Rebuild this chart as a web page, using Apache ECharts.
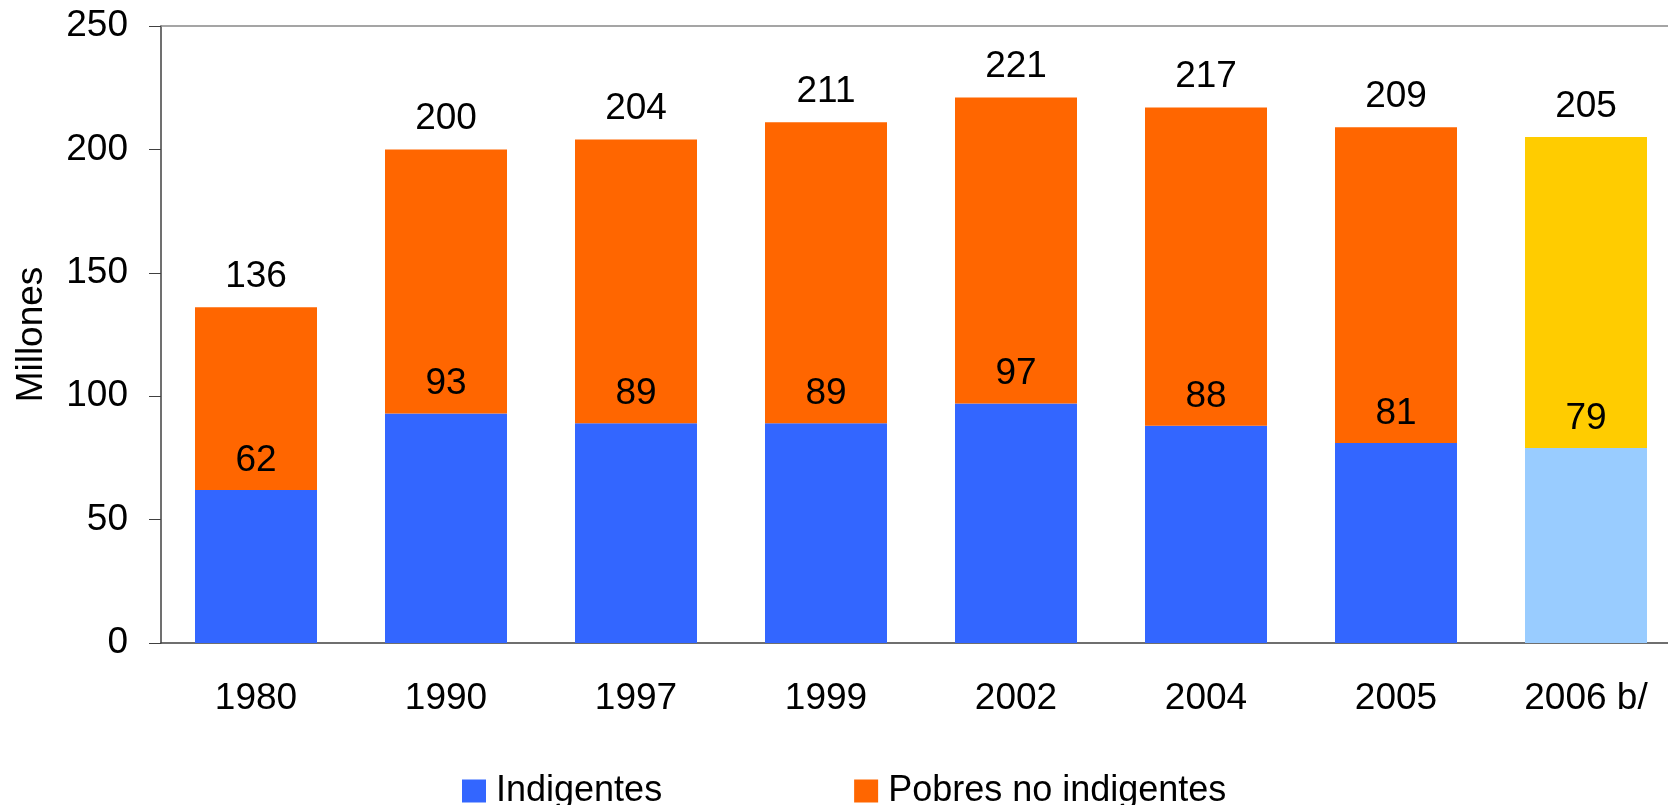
<!DOCTYPE html>
<html>
<head>
<meta charset="utf-8">
<script src="https://cdn.jsdelivr.net/npm/echarts@6/dist/echarts.min.js"></script>
<style>
  html, body { margin: 0; padding: 0; background: #fff; }
  #chart { width: 1668px; height: 805px; }
</style>
</head>
<body>
<div id="chart"></div>
<script>
// datos (millones de personas)
var years = ['1980', '1990', '1997', '1999', '2002', '2004', '2005', '2006 b/'];
var indigentes = [62, 93, 89, 89, 97, 88, 81, 79];
var totales = [136, 200, 204, 211, 221, 217, 209, 205];
var pobresNoIndigentes = totales.map(function (t, i) { return t - indigentes[i]; });

var FONT = '"Liberation Sans", Arial, sans-serif';

var chart = echarts.init(document.getElementById('chart'));

// el ultimo año (proyeccion) va en otros colores
var indigData = indigentes.map(function (v, i) {
  return i === indigentes.length - 1 ? { value: v, itemStyle: { color: '#99CCFF' } } : v;
});
var pobresData = pobresNoIndigentes.map(function (v, i) {
  return i === pobresNoIndigentes.length - 1 ? { value: v, itemStyle: { color: '#FFCC00' } } : v;
});

var option = {
  animation: false,
  backgroundColor: '#fff',
  textStyle: { fontFamily: FONT },
  // el grafico original esta recortado a la derecha
  grid: { left: 161, top: 26, bottom: 162, width: 1520, outerBoundsMode: 'none', containLabel: false },
  legend: {
    left: 457,
    top: 768,
    itemWidth: 24,
    itemHeight: 23,
    itemGap: 192,
    icon: 'rect',
    textStyle: { fontSize: 36, color: '#000', fontFamily: FONT, padding: [0, 0, 0, 5] },
    data: ['Indigentes', 'Pobres no indigentes']
  },
  xAxis: [{
    type: 'category',
    data: years,
    axisLine: { lineStyle: { color: '#404040', width: 1.5 } },
    axisTick: { length: 12, lineStyle: { color: '#404040' } },
    axisLabel: { fontSize: 37, color: '#000', margin: 37 }
  }, {
    // linea superior del area de trazado
    type: 'category',
    position: 'top',
    data: years,
    axisLine: { lineStyle: { color: '#888', width: 1.5 } },
    axisTick: { show: false },
    axisLabel: { show: false }
  }],
  yAxis: {
    type: 'value',
    min: 0,
    max: 250,
    interval: 50,
    name: 'Millones',
    nameLocation: 'middle',
    nameGap: 111,
    nameTextStyle: { fontSize: 37, color: '#000' },
    axisLine: { show: true, lineStyle: { color: '#404040', width: 1.5 } },
    axisTick: { show: true, length: 12, lineStyle: { color: '#404040' } },
    axisLabel: { fontSize: 37, color: '#000', margin: 33 },
    splitLine: { show: false }
  },
  series: [
    {
      name: 'Indigentes',
      type: 'bar',
      stack: 'total',
      barWidth: 122,
      itemStyle: { color: '#3366FF' },
      label: { show: true, position: 'top', distance: 11, fontSize: 37, color: '#000' },
      data: indigData
    },
    {
      name: 'Pobres no indigentes',
      type: 'bar',
      stack: 'total',
      barWidth: 122,
      itemStyle: { color: '#FF6600' },
      label: {
        show: true, position: 'top', distance: 12, fontSize: 37, color: '#000',
        formatter: function (p) { return totales[p.dataIndex]; }
      },
      data: pobresData
    }
  ]
};

chart.setOption(option);
</script>
</body>
</html>
